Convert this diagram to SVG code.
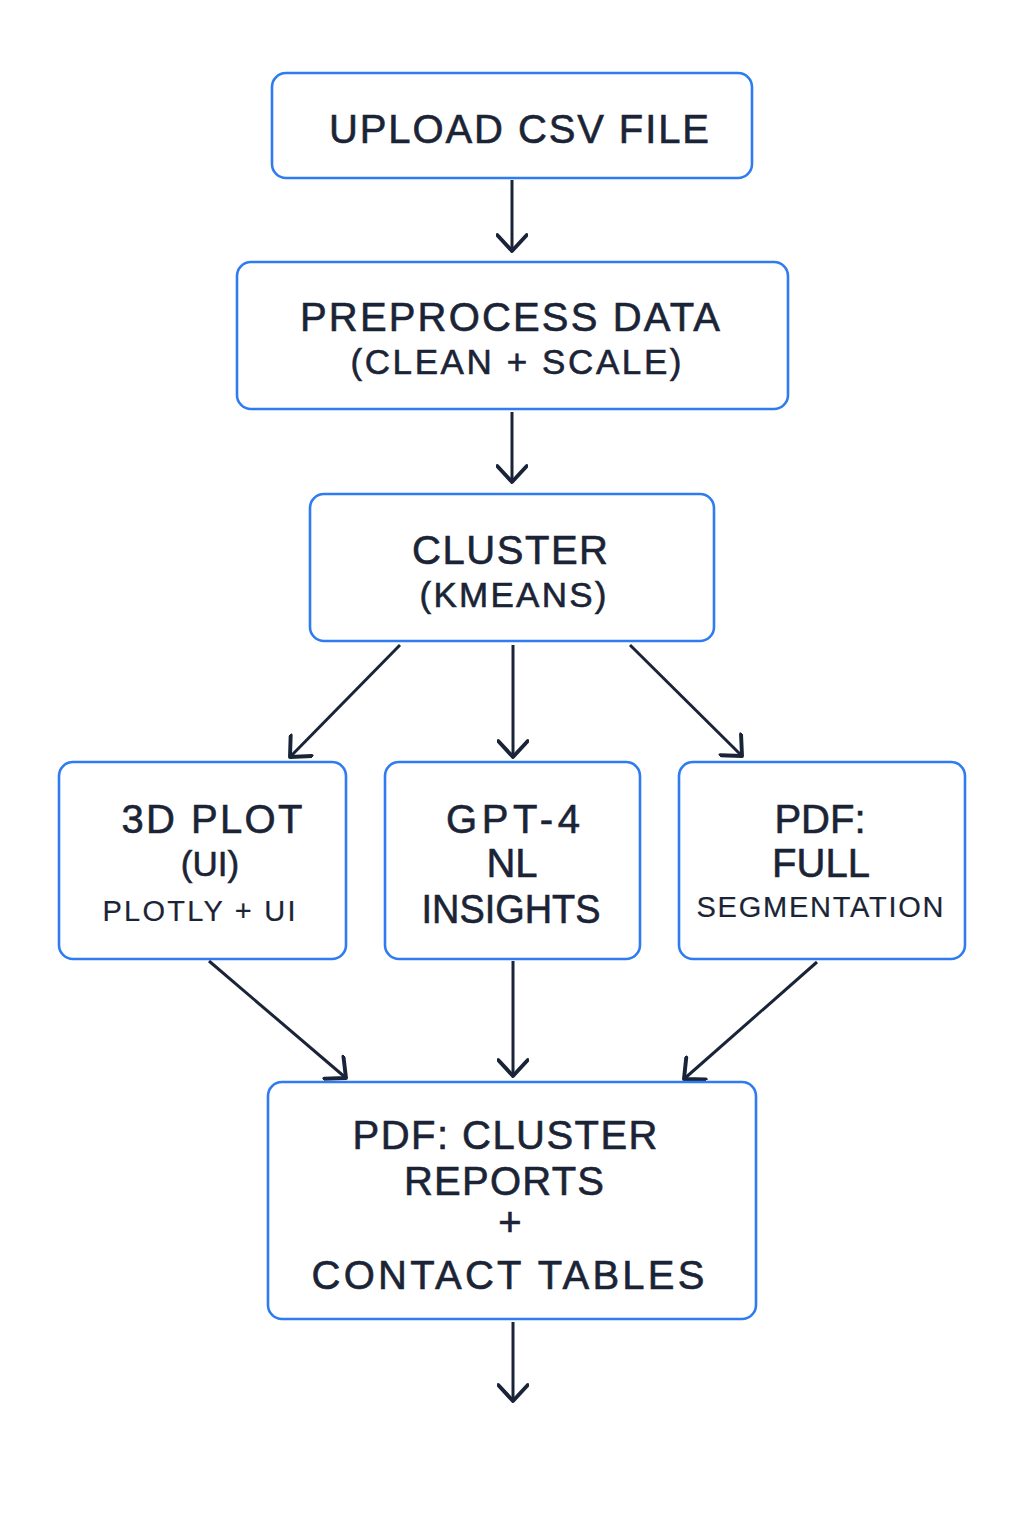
<svg xmlns="http://www.w3.org/2000/svg" width="1024" height="1536" viewBox="0 0 1024 1536">
<defs>
<marker id="ah" markerUnits="userSpaceOnUse" markerWidth="32" markerHeight="32" viewBox="-15 -13 17 26" refX="0" refY="0" orient="auto">
<path d="M-13,-12 L0,0 L-13,12" fill="none" stroke="#1a2438" stroke-width="3.2" stroke-linecap="round" stroke-linejoin="round"/>
</marker>
<style>
.box{fill:#fff;stroke:#2f7cf0;stroke-width:2.6}
.t{font-family:"Liberation Sans",Arial,sans-serif;fill:#1b2436;stroke:#1b2436;stroke-width:0.6;text-anchor:middle}
.l{font-size:40px}
.m{font-size:35px}
.s{font-size:29px;stroke-width:0.2}
.c{stroke:#1a2438;stroke-width:3;fill:none;marker-end:url(#ah)}
</style>
</defs>
<rect width="1024" height="1536" fill="#fff"/>
<g id="connectors">
<line class="c" x1="512" y1="180" x2="512" y2="251"/>
<line class="c" x1="512" y1="412" x2="512" y2="482"/>
<line class="c" x1="400" y1="645" x2="290" y2="757"/>
<line class="c" x1="513" y1="645" x2="513" y2="757"/>
<line class="c" x1="630" y1="645" x2="742" y2="756"/>
<line class="c" x1="209" y1="961" x2="346" y2="1078"/>
<line class="c" x1="513" y1="961" x2="513" y2="1076"/>
<line class="c" x1="817" y1="962" x2="684" y2="1079"/>
<line class="c" x1="513" y1="1322" x2="513" y2="1401"/>
</g>
<g id="upload">
<rect class="box" x="272" y="73" width="480" height="105" rx="14"/>
<text class="t l" x="519" y="143" textLength="380" lengthAdjust="spacing">UPLOAD CSV FILE</text>
</g>
<g id="preprocess">
<rect class="box" x="237" y="262" width="551" height="147" rx="14"/>
<text class="t l" x="510" y="331" textLength="420" lengthAdjust="spacing">PREPROCESS DATA</text>
<text class="t m" x="516" y="374" textLength="331" lengthAdjust="spacing">(CLEAN + SCALE)</text>
</g>
<g id="cluster">
<rect class="box" x="310" y="494" width="404" height="147" rx="14"/>
<text class="t l" x="510" y="564" textLength="196" lengthAdjust="spacing">CLUSTER</text>
<text class="t m" x="513" y="607" textLength="187" lengthAdjust="spacing">(KMEANS)</text>
</g>
<g id="plot3d">
<rect class="box" x="59" y="762" width="287" height="197" rx="14"/>
<text class="t l" x="212" y="833" textLength="181" lengthAdjust="spacing">3D PLOT</text>
<text class="t m" x="210" y="876">(UI)</text>
<text class="t s" x="199" y="921" textLength="193" lengthAdjust="spacing">PLOTLY + UI</text>
</g>
<g id="gpt4">
<rect class="box" x="385" y="762" width="255" height="197" rx="14"/>
<text class="t l" x="513" y="833" textLength="134" lengthAdjust="spacing">GPT-4</text>
<text class="t l" x="512" y="877">NL</text>
<text class="t l" x="511" y="923" textLength="179" lengthAdjust="spacingAndGlyphs">INSIGHTS</text>
</g>
<g id="pdffull">
<rect class="box" x="679" y="762" width="286" height="197" rx="14"/>
<text class="t l" x="820" y="833">PDF:</text>
<text class="t l" x="821" y="877">FULL</text>
<text class="t s" x="820" y="917" textLength="247" lengthAdjust="spacing">SEGMENTATION</text>
</g>
<g id="reports">
<rect class="box" x="268" y="1082" width="488" height="237" rx="14"/>
<text class="t l" x="505" y="1149" textLength="305" lengthAdjust="spacing">PDF: CLUSTER</text>
<text class="t l" x="504" y="1195" textLength="200" lengthAdjust="spacing">REPORTS</text>
<text class="t l" x="510" y="1236">+</text>
<text class="t l" x="508" y="1289" textLength="393" lengthAdjust="spacing">CONTACT TABLES</text>
</g>
</svg>
